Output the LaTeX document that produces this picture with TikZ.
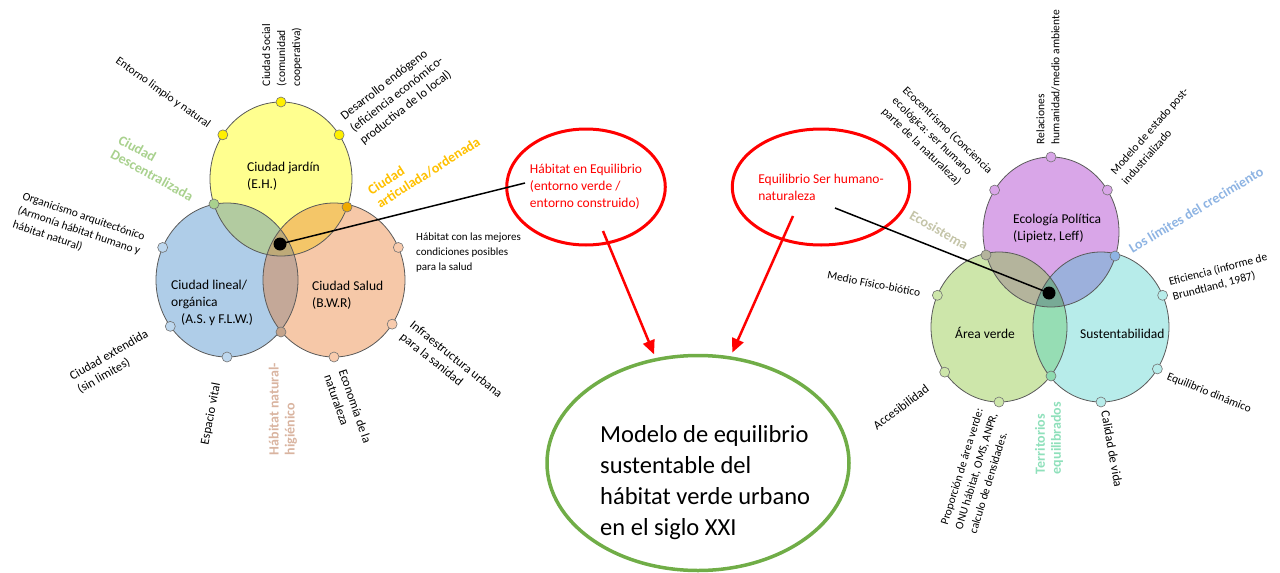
\documentclass[tikz,border=0pt]{standalone}
\usepackage{fontspec}
\setmainfont{Carlito}
\usetikzlibrary{arrows.meta,shapes.geometric}

\definecolor{yelF}{RGB}{255,255,143}
\definecolor{bluF}{RGB}{175,205,232}
\definecolor{oraF}{RGB}{246,200,168}
\definecolor{lensYB}{RGB}{178,203,160}
\definecolor{lensYO}{RGB}{244,198,104}
\definecolor{lensBO}{RGB}{196,168,152}
\definecolor{tripL}{RGB}{190,170,120}
\definecolor{dotY}{RGB}{255,240,0}
\definecolor{dotYB}{RGB}{169,209,142}
\definecolor{dotYO}{RGB}{240,170,0}
\definecolor{dotB}{RGB}{189,215,238}
\definecolor{dotO}{RGB}{248,203,173}
\definecolor{dotBO}{RGB}{196,164,140}
\definecolor{purF}{RGB}{217,166,232}
\definecolor{grnF}{RGB}{205,230,170}
\definecolor{cyaF}{RGB}{183,236,234}
\definecolor{lensPG}{RGB}{180,180,156}
\definecolor{lensPC}{RGB}{156,176,220}
\definecolor{lensGC}{RGB}{150,221,180}
\definecolor{tripR}{RGB}{120,170,150}
\definecolor{dotPC}{RGB}{143,180,227}
\definecolor{dotGC}{RGB}{143,219,176}
\definecolor{tagG}{RGB}{169,209,142}
\definecolor{tagO}{RGB}{255,192,0}
\definecolor{tagT}{RGB}{217,180,160}
\definecolor{tagE}{RGB}{196,196,168}
\definecolor{tagL}{RGB}{142,180,227}
\definecolor{tagA}{RGB}{143,224,187}
\definecolor{mdlG}{RGB}{112,173,71}

\begin{document}
\begin{tikzpicture}[x=1pt,y=-1pt,
  venn/.style={draw=black!65,line width=0.8pt},
  dot/.style={circle,draw=black!55,line width=0.6pt,minimum size=10pt,inner sep=0pt},
  bdot/.style={circle,fill=black,minimum size=13pt,inner sep=0pt},
  lbl/.style={font=\fontsize{11.5}{15}\selectfont,align=left,inner sep=0pt},
  lblbig/.style={lbl,font=\fontsize{12.5}{15.5}\selectfont},
  mainlbl/.style={font=\fontsize{13.5}{17}\selectfont,align=left,inner sep=0pt,anchor=west},
  tag/.style={font=\bfseries\fontsize{14}{16}\selectfont,align=left,inner sep=0pt},
  redell/.style={ellipse,draw=red,line width=3pt,minimum width=158pt,minimum height=116pt,
    inner sep=0pt,text=red,align=left,font=\fontsize{13.5}{17}\selectfont},
  redarrow/.style={red,line width=2.5pt,shorten >=4pt,-{Triangle[length=14pt,width=12pt]}},
  link/.style={black,line width=1.5pt}]
\useasboundingbox (0,0) rectangle (1280,573);

% The left Venn diagram
\coordinate (yel) at (281,179);
\coordinate (blu) at (227,280);
\coordinate (ora) at (334,280);
\begin{scope}[x radius=71pt,y radius=77pt]
  \fill[yelF] (yel) ellipse;
  \fill[bluF] (blu) ellipse;
  \fill[oraF] (ora) ellipse;
  \begin{scope}
    \clip (yel) ellipse;
    \fill[lensYB] (blu) ellipse;
    \fill[lensYO] (ora) ellipse;
  \end{scope}
  \begin{scope}
    \clip (blu) ellipse;
    \fill[lensBO] (ora) ellipse;
    \clip (yel) ellipse;
    \fill[tripL] (ora) ellipse;
  \end{scope}
  \foreach \c in {yel,blu,ora}
    \draw[venn] (\c) ellipse;
\end{scope}

% Dots on the left circles
\foreach \a in {145,90,35}
  \node[dot,fill=dotY] (yd\a) at ([shift={(\a:71pt and 77pt)}]yel) {};
\foreach \a in {155,217,270}
  \node[dot,fill=dotB] (bd\a) at ([shift={(\a:71pt and 77pt)}]blu) {};
\foreach \a in {25,-35,-90}
  \node[dot,fill=dotO] (od\a) at ([shift={(\a:71pt and 77pt)}]ora) {};
\node[dot,fill=dotYB] (ydb) at (214,204) {};
\node[dot,fill=dotYO] (ydo) at (347,207) {};
\node[dot,fill=dotBO] (bdo) at (281,332) {};

% Names of the left circles
\node[mainlbl] (jard) at (247,176) {Ciudad jardín\\(E.H.)};
\node[mainlbl] (lineal) at (171,303) {Ciudad lineal/\\orgánica\\\hspace*{10pt}(A.S. y F.L.W.)};
\node[mainlbl] (salud) at (312,295) {Ciudad Salud\\(B.W.R)};

% Labels round the left circles
\node[lbl,rotate=90] (socl) at (282,55) {Ciudad Social\\(comunidad\\cooperativa)};
\node[lbl,rotate=-35.5] (entl) at (163,93) {Entorno limpio y natural};
\node[lblbig,rotate=38] (desa) at (397,95) {Desarrollo endógeno\\(eficiencia económico-\\productiva de lo local)};
\node[lbl,rotate=-18.7] (orga) at (79,231) {Organicismo arquitectónico\\(Armonía hábitat humano y\\hábitat natural)};
\node[lbl,anchor=west,font=\fontsize{11}{15}\selectfont] (hsal) at (416,253) {Hábitat con las mejores\\condiciones posibles\\para la salud};
\node[lblbig,rotate=30] (cext) at (113,362) {Ciudad extendida\\(sin limites)};
\node[lblbig,rotate=79] (espv) at (211,414) {Espacio vital};
\node[lblbig,rotate=-71] (econ) at (348,409) {Economía de la\\naturaleza};
\node[lblbig,rotate=-39] (infr) at (451,366) {Infraestructura urbana\\para la sanidad};
\node[tag,text=tagG,rotate=-29] (desc) at (156,168) {Ciudad\\Descentralizada};
\node[tag,text=tagO,rotate=32.5] (artc) at (424,166) {Ciudad\\articulada/ordenada};
\node[tag,text=tagT,rotate=90] (hnat) at (283,409) {Hábitat natural-\\higiénico};

% The right Venn diagram
\coordinate (pur) at (1051,232);
\coordinate (grn) at (999,327);
\coordinate (cya) at (1101,327);
\begin{scope}[x radius=68pt,y radius=75pt]
  \fill[purF] (pur) ellipse;
  \fill[grnF] (grn) ellipse;
  \fill[cyaF] (cya) ellipse;
  \begin{scope}
    \clip (pur) ellipse;
    \fill[lensPG] (grn) ellipse;
    \fill[lensPC] (cya) ellipse;
  \end{scope}
  \begin{scope}
    \clip (grn) ellipse;
    \fill[lensGC] (cya) ellipse;
    \clip (pur) ellipse;
    \fill[tripR] (cya) ellipse;
  \end{scope}
  \foreach \c in {pur,grn,cya}
    \draw[venn] (\c) ellipse;
\end{scope}

% Dots on the right circles
\foreach \a in {146,90,34}
  \node[dot,fill=purF] (pd\a) at ([shift={(\a:68pt and 75pt)}]pur) {};
\foreach \a in {155,217,270}
  \node[dot,fill=grnF] (gd\a) at ([shift={(\a:68pt and 75pt)}]grn) {};
\foreach \a in {25,-34,-90}
  \node[dot,fill=cyaF] (cd\a) at ([shift={(\a:68pt and 75pt)}]cya) {};
\node[dot,fill=lensPG] (pdg) at (986,255) {};
\node[dot,fill=dotPC] (pdc) at (1115,256) {};
\node[dot,fill=dotGC] (gdc) at (1051,376) {};

% Names of the right circles
\node[mainlbl] (epol) at (1013,228) {Ecología Política\\(Lipietz, Leff)};
\node[mainlbl] (aver) at (955,333) {Área verde};
\node[mainlbl] (sust) at (1080,334) {Sustentabilidad};

% Labels round the right circles
\node[lbl,rotate=90] (rela) at (1048,77) {Relaciones\\humanidad/medio ambiente};
\node[lbl,rotate=-44] (ecoc) at (937,141) {Ecocentrismo (Conciencia\\ecológica: ser humano\\parte de la naturaleza)};
\node[lbl,rotate=48.6] (mode) at (1155,136) {Modelo de estado post-\\industrializado};
\node[lbl,rotate=-11] (medi) at (874,284) {Medio Físico-biótico};
\node[lbl,rotate=14.5] (efic) at (1220,277) {Eficiencia (informe de\\Brundtland, 1987)};
\node[lbl,rotate=-22] (equi) at (1209,393) {Equilibrio dinámico};
\node[lblbig,rotate=-80] (cali) at (1112,449) {Calidad de vida};
\node[lbl,rotate=73] (prop) at (976,471) {Proporción de área verde:\\ONU hábitat, OMS, ANPR,\\calculo de densidades.};
\node[lblbig,rotate=37] (acce) at (901,407) {Accesibilidad};
\node[tag,text=tagE,rotate=-30] (ecos) at (939,230) {Ecosistema};
\node[tag,text=tagL,rotate=31] (limi) at (1196,210) {Los límites del crecimiento};
\node[tag,text=tagA,rotate=90] (terr) at (1049,438) {Territorios\\equilibrados};

% The red ellipses and the model
\node[redell] (heq) at (586,187) {Hábitat en Equilibrio\\(entorno verde /\\entorno construido)};
\node[redell,minimum width=157pt] (esh) at (821,187) {Equilibrio Ser humano-\\naturaleza};
\node[ellipse,draw=mdlG,line width=3.5pt,minimum width=302pt,minimum height=215pt] (mdl) at (698,463) {};
\node[align=left,inner sep=0pt,anchor=west,font=\fontsize{24.5}{31}\selectfont] (mdltxt) at (600,483)
  {Modelo de equilibrio\\sustentable del\\hábitat verde urbano\\en el siglo XXI};

% Links and arrows
\coordinate (lend) at (525,183);
\coordinate (rend) at (835,208);
\coordinate (heqa) at (603,231);
\coordinate (esha) at (793,216);
\draw[link] (280,244) -- (lend);
\node[bdot] (ldot) at (280,244) {};
\draw[link] (1049,293) -- (rend);
\node[bdot] (rdot) at (1049,293) {};
\draw[redarrow] (heqa) -- (mdl.112);
\draw[redarrow] (esha) -- (mdl.73);
\end{tikzpicture}
\end{document}
